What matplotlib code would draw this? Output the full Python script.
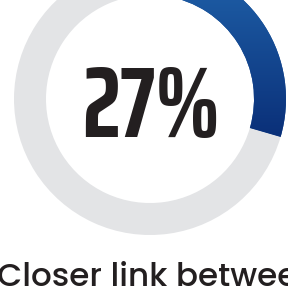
import numpy as np
import matplotlib
matplotlib.use("Agg")
import matplotlib.pyplot as plt
from matplotlib.colors import LinearSegmentedColormap

share = [27, 73]
big_label = "27%"
caption = "Closer link between"

fig = plt.figure(figsize=(2.88, 2.88), dpi=100)
ax = fig.add_axes([0, 0, 1, 1])

cx, cy, R = 150, 189, 136
wedges, _ = ax.pie(share, colors=["#1a4f96", "#e3e4e6"], startangle=81,
                   counterclock=False, center=(cx, cy), radius=R,
                   wedgeprops=dict(width=32, linewidth=0), frame=True)
ax.set_xlim(0, 288)
ax.set_ylim(0, 288)
ax.set_aspect("equal")
ax.axis("off")

# blue arc has a vertical gradient, light at the top, navy at the bottom
cmap = LinearSegmentedColormap.from_list("arc", ["#0a2f78", "#2063ab"])
grad = np.linspace(0, 1, 256).reshape(-1, 1)
img = ax.imshow(grad, cmap=cmap, origin="lower", aspect="auto",
                extent=(cx, cx + R, cy - 40, cy + R), zorder=3)
img.set_clip_path(wedges[0])

ax.text(151, 188, big_label, ha="center", va="center_baseline", fontsize=72,
        fontweight=700, color="#231f20",
        family=["Saira ExtraCondensed", "Barlow Condensed", "DejaVu Sans"], zorder=4)
ax.text(-3, 2, caption, ha="left", va="baseline", fontsize=23.5,
        fontweight=500, color="#231f20",
        family=["Poppins", "Lato", "DejaVu Sans"], zorder=4)

fig.savefig("out.png", dpi=100)
